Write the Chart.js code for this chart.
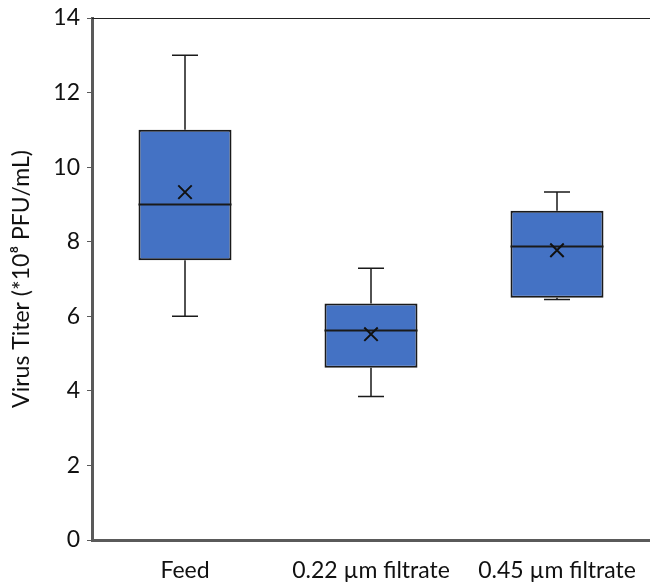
<!DOCTYPE html>
<html>
<head>
<meta charset="utf-8">
<script src="https://cdn.jsdelivr.net/npm/chart.js@4/dist/chart.umd.min.js"></script>
<style>
  body { margin: 0; background: #fff; }
</style>
</head>
<body>
<canvas id="chart-area" width="650" height="582"></canvas>
<script>
var categories = ["Feed", "0.22 \u00b5m filtrate", "0.45 \u00b5m filtrate"];
var minVals = [6.0, 3.85, 6.45];
var q1Vals = [7.5, 4.62, 6.5];
var medianVals = [9.0, 5.62, 7.87];
var q3Vals = [11.0, 6.34, 8.83];
var maxVals = [13.0, 7.29, 9.33];
var meanVals = [9.33, 5.52, 7.77];
var yTicks = [0, 2, 4, 6, 8, 10, 12, 14];

var boxData = [];
for (var i = 0; i < categories.length; i++) {
    boxData.push([q1Vals[i], q3Vals[i]]);
}

// whiskers, caps and median lines, drawn right after the boxes
var boxExtras = {
    id: 'boxExtras',
    afterDatasetDraw: function(chart, args) {
        if (args.meta.type !== 'bar') return;
        var ctx = chart.ctx, x = chart.scales.x, y = chart.scales.y;
        var half = args.meta.data[0].width / 2;
        ctx.save();
        ctx.strokeStyle = '#1a1a1a';
        ctx.lineWidth = 1.5;
        for (var i = 0; i < categories.length; i++) {
            var cx = x.getPixelForValue(i);
            ctx.beginPath();
            ctx.moveTo(cx, y.getPixelForValue(q3Vals[i]));
            ctx.lineTo(cx, y.getPixelForValue(maxVals[i]));
            ctx.moveTo(cx, y.getPixelForValue(q1Vals[i]));
            ctx.lineTo(cx, y.getPixelForValue(minVals[i]));
            ctx.moveTo(cx - 13, y.getPixelForValue(maxVals[i]));
            ctx.lineTo(cx + 13, y.getPixelForValue(maxVals[i]));
            ctx.moveTo(cx - 13, y.getPixelForValue(minVals[i]));
            ctx.lineTo(cx + 13, y.getPixelForValue(minVals[i]));
            ctx.stroke();
            ctx.beginPath();
            ctx.lineWidth = 2;
            ctx.moveTo(cx - half, y.getPixelForValue(medianVals[i]));
            ctx.lineTo(cx + half, y.getPixelForValue(medianVals[i]));
            ctx.stroke();
            ctx.lineWidth = 1.5;
        }
        ctx.restore();
    },
    afterDraw: function(chart) {
        // thin frame line along the top
        var ctx = chart.ctx, a = chart.chartArea;
        ctx.save();
        ctx.strokeStyle = '#222';
        ctx.lineWidth = 1;
        ctx.beginPath();
        ctx.moveTo(a.left, a.top + 0.5);
        ctx.lineTo(a.right, a.top + 0.5);
        ctx.stroke();
        ctx.restore();
    }
};

var config = {
    type: 'bar',
    data: {
        labels: categories,
        datasets: [{
            type: 'bar',
            label: 'box',
            data: boxData,
            backgroundColor: '#4472C4',
            borderColor: '#1a1a1a',
            borderWidth: 2,
            borderSkipped: false,
            categoryPercentage: 1,
            barPercentage: 0.5,
            order: 1
        }, {
            type: 'line',
            label: 'mean',
            data: meanVals,
            showLine: false,
            pointStyle: 'crossRot',
            pointRadius: 9.5,
            pointBorderWidth: 2,
            pointBorderColor: '#111',
            order: 0
        }]
    },
    options: {
        responsive: false,
        animation: false,
        layout: { autoPadding: false, padding: { top: 18, right: 0, left: 0, bottom: 0 } },
        plugins: { legend: { display: false }, tooltip: { enabled: false } },
        scales: {
            x: {
                grid: { display: false, drawTicks: false },
                border: { color: '#5a5a5a', width: 3 },
                ticks: { color: '#111', font: { family: 'Lato', size: 23 }, padding: 17 },
                afterFit: function(scale) {
                    scale.height = 42;
                    scale.paddingLeft = 0;
                    scale.paddingRight = 0;
                }
            },
            y: {
                min: 0,
                max: 14,
                afterBuildTicks: function(scale) {
                    scale.ticks = yTicks.map(function(v) { return { value: v }; });
                },
                grid: { drawOnChartArea: false, drawTicks: true, tickLength: 5, color: '#5a5a5a' },
                border: { color: '#5a5a5a', width: 3 },
                ticks: { color: '#111', font: { family: 'Lato', size: 23 }, padding: 7 },
                title: {
                    display: true,
                    text: 'Virus Titer (*10\u2078 PFU/mL)',
                    color: '#111',
                    font: { family: 'Lato', size: 23 },
                    padding: { top: 8, bottom: 0 }
                },
                afterFit: function(scale) {
                    scale.width = 92;
                    scale.paddingTop = 0;
                    scale.paddingBottom = 0;
                }
            }
        }
    },
    plugins: [boxExtras]
};

window.onload = function() {
    var ctx = document.getElementById("chart-area").getContext("2d");
    window.myBox = new Chart(ctx, config);
};
</script>
</body>
</html>
